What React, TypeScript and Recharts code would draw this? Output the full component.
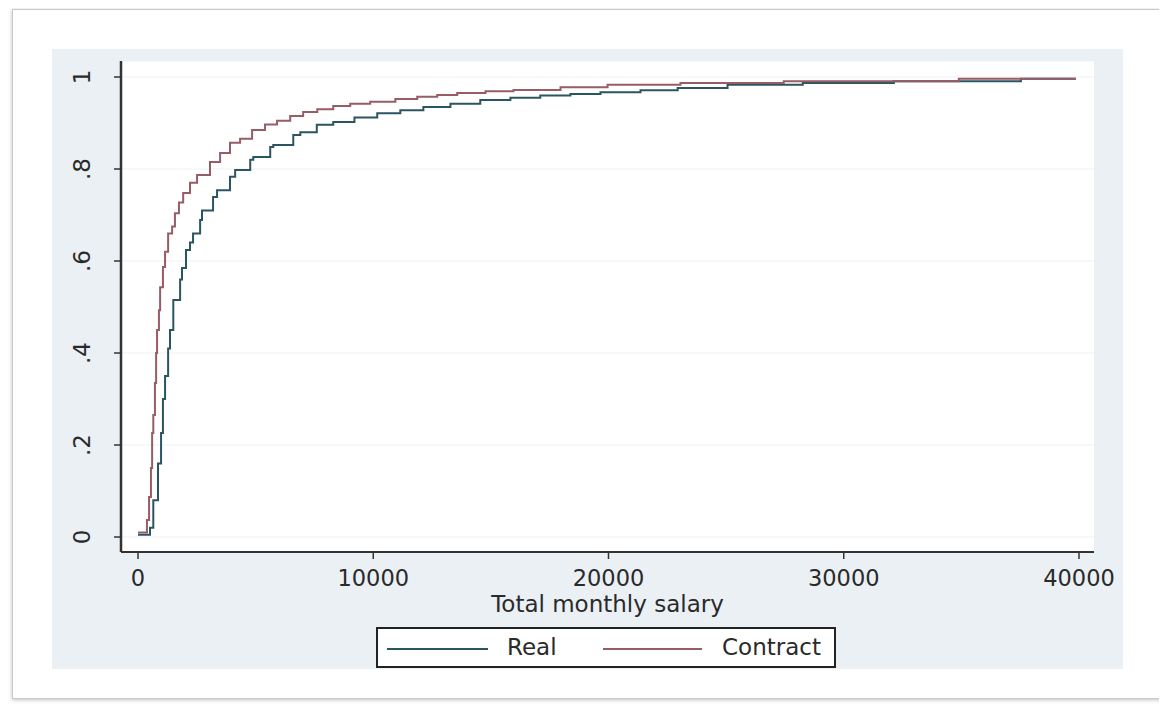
import React from "react";
import { LineChart, Line, XAxis, YAxis, CartesianGrid, Label } from "recharts";

const realSalary = [0, 510, 650, 850, 980, 1060, 1150, 1280, 1360, 1500, 1790, 1870, 2040, 2210, 2340, 2640, 2720, 3190, 3360, 3910, 4130, 4770, 4900, 5620, 5750, 6600, 6900, 7600, 8300, 9200, 10170, 11150, 12130, 13280, 14550, 15830, 17100, 18380, 19660, 21360, 22940, 25060, 28260, 32130, 37530, 39870];
const realShare = [0.005, 0.02, 0.08, 0.16, 0.226, 0.3, 0.35, 0.41, 0.45, 0.515, 0.56, 0.585, 0.624, 0.64, 0.66, 0.689, 0.71, 0.739, 0.754, 0.783, 0.798, 0.82, 0.826, 0.848, 0.852, 0.874, 0.88, 0.896, 0.902, 0.912, 0.921, 0.928, 0.935, 0.942, 0.95, 0.955, 0.96, 0.963, 0.967, 0.971, 0.976, 0.983, 0.987, 0.991, 0.996, 0.996];

const contractSalary = [0, 380, 470, 550, 600, 650, 720, 770, 810, 890, 940, 1060, 1150, 1280, 1450, 1570, 1740, 1920, 2210, 2510, 3060, 3490, 3910, 4340, 4850, 5400, 5910, 6470, 7020, 7620, 8300, 9020, 9870, 10940, 11870, 12720, 13570, 14770, 15960, 17960, 19960, 23060, 27450, 34890, 39870];
const contractShare = [0.01, 0.037, 0.087, 0.15, 0.226, 0.265, 0.335, 0.4, 0.45, 0.493, 0.543, 0.587, 0.62, 0.66, 0.675, 0.704, 0.727, 0.748, 0.77, 0.787, 0.815, 0.835, 0.857, 0.866, 0.885, 0.897, 0.905, 0.915, 0.924, 0.93, 0.937, 0.942, 0.946, 0.952, 0.957, 0.961, 0.965, 0.969, 0.972, 0.978, 0.983, 0.987, 0.991, 0.996, 0.996];

const xTicks = [0, 10000, 20000, 30000, 40000];
const yTicks = [0, 0.2, 0.4, 0.6, 0.8, 1];
const yTickLabels = ["0", ".2", ".4", ".6", ".8", "1"];
const seriesNames = ["Real", "Contract"];
const xTitle = "Total monthly salary";

const realData = realSalary.map((v, i) => ({ v, p: realShare[i] }));
const contractData = contractSalary.map((v, i) => ({ v, p: contractShare[i] }));

const REAL = "#2b5560";
const CONTRACT = "#975c66";
const FONT = "'DejaVu Sans', sans-serif";
const TXT = "#2a2a2a";

const YTick = (props: any) => {
  const { x, y, payload } = props;
  const idx = yTicks.findIndex((t) => Math.abs(t - payload.value) < 1e-6);
  const label = idx >= 0 ? yTickLabels[idx] : String(payload.value);
  const cx = x - 30;
  return (
    <text
      x={cx}
      y={y}
      transform={`rotate(-90, ${cx}, ${y})`}
      textAnchor="middle"
      dominantBaseline="central"
      fontFamily={FONT}
      fontSize={23}
      fill={TXT}
    >
      {label}
    </text>
  );
};

const XTitle = (props: any) => {
  const vb = props.viewBox || {};
  return (
    <text
      x={vb.x + vb.width / 2}
      y={vb.y + 60}
      textAnchor="middle"
      fontFamily={FONT}
      fontSize={23}
      fill={TXT}
    >
      {xTitle}
    </text>
  );
};

export default function App() {
  return (
    <div style={{ position: "relative", width: 1159, height: 699 }}>
      <div
        style={{
          position: "absolute",
          left: 4,
          top: 1,
          width: 1147,
          height: 688,
          border: "1px solid #c9c9c9",
          boxShadow: "0 1px 4px rgba(0,0,0,0.25)",
          background: "#ffffff",
        }}
      />
      <div
        style={{
          position: "absolute",
          left: 44,
          top: 41,
          width: 1071,
          height: 620,
          background: "#ebf0f5",
        }}
      />
      <div style={{ position: "absolute", left: 0, top: 0 }}>
        <LineChart
          width={1159}
          height={699}
          margin={{ top: 53, right: 73, bottom: 0, left: 53 }}
        >
          <CartesianGrid
            vertical={false}
            horizontal={true}
            stroke="#eef1f4"
            strokeWidth={1}
            fill="#ffffff"
          />
          <XAxis
            type="number"
            dataKey="v"
            domain={[-723, 40638]}
            ticks={xTicks}
            allowDataOverflow
            height={155}
            tickSize={7}
            tickMargin={11}
            axisLine={{ stroke: "#333", strokeWidth: 2 }}
            tickLine={{ stroke: "#333", strokeWidth: 1.5 }}
            tick={{ fontFamily: FONT, fontSize: 22.5, fill: TXT }}
            interval={0}
          >
            <Label content={<XTitle />} />
          </XAxis>
          <YAxis
            type="number"
            domain={[-0.0326, 1.0348]}
            ticks={yTicks}
            allowDataOverflow
            width={60}
            tickSize={7}
            tickMargin={2}
            axisLine={{ stroke: "#333", strokeWidth: 2.5 }}
            tickLine={{ stroke: "#333", strokeWidth: 1.5 }}
            tick={<YTick />}
            interval={0}
          />
          <Line
            data={realData}
            dataKey="p"
            name={seriesNames[0]}
            type="stepAfter"
            stroke={REAL}
            strokeWidth={2}
            dot={false}
            isAnimationActive={false}
          />
          <Line
            data={contractData}
            dataKey="p"
            name={seriesNames[1]}
            type="stepAfter"
            stroke={CONTRACT}
            strokeWidth={2}
            dot={false}
            isAnimationActive={false}
          />
        </LineChart>
      </div>
      <div
        style={{
          position: "absolute",
          left: 368,
          top: 619,
          width: 456,
          height: 37,
          border: "2px solid #222",
          background: "#ffffff",
          fontFamily: FONT,
          fontSize: 23,
          color: TXT,
        }}
      >
        <div style={{ position: "absolute", left: 9, top: 19, width: 101, height: 2, background: REAL }} />
        <div style={{ position: "absolute", left: 129, top: 0, height: 37, lineHeight: "37px" }}>{seriesNames[0]}</div>
        <div style={{ position: "absolute", left: 225, top: 19, width: 99, height: 2, background: CONTRACT }} />
        <div style={{ position: "absolute", left: 344, top: 0, height: 37, lineHeight: "37px" }}>{seriesNames[1]}</div>
      </div>
    </div>
  );
}
